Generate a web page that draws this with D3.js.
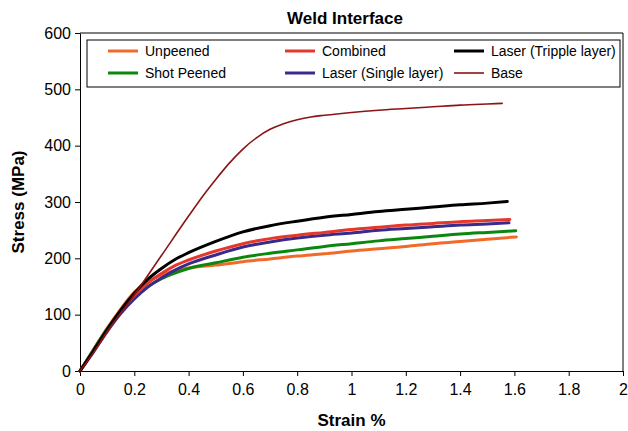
<!DOCTYPE html>
<html lang="en">
<head>
<meta charset="UTF-8">
<title>Weld Interface</title>
<script src="https://d3js.org/d3.v7.min.js"></script>
<style>
    body { margin: 0; background: #fff; }
    text { font-family: "Liberation Sans", Arial, sans-serif; fill: #000; }
</style>
</head>
<body>
<svg width="628" height="431"></svg>
<script>
    // strain (%) sample points, one array per curve
    const unpeenedX = [0, 0.05, 0.1, 0.15, 0.2, 0.25, 0.3, 0.35, 0.4, 0.5, 0.6, 0.7, 0.8, 0.9, 1.0, 1.1, 1.2, 1.3, 1.4, 1.5, 1.607];
    const unpeenedY = [0, 38, 76, 110, 140, 159, 170, 178, 183, 188, 194, 199, 204, 208, 213, 217, 221, 226, 230, 234, 238];

    const shotX = [0, 0.05, 0.1, 0.15, 0.2, 0.25, 0.3, 0.35, 0.4, 0.5, 0.6, 0.7, 0.8, 0.9, 1.0, 1.1, 1.2, 1.3, 1.4, 1.5, 1.605];
    const shotY = [0, 38, 75, 106, 132, 150, 164, 174, 182, 192, 202, 209, 215, 221, 226, 231, 235, 239, 243, 246, 249];

    const singleX = [0, 0.05, 0.1, 0.15, 0.2, 0.25, 0.3, 0.35, 0.4, 0.5, 0.6, 0.7, 0.8, 0.9, 1.0, 1.1, 1.2, 1.3, 1.4, 1.5, 1.58];
    const singleY = [0, 34, 70, 102, 128, 149, 165, 179, 190, 206, 220, 229, 236, 241, 245, 250, 253, 256, 259, 261, 263];

    const combinedX = [0, 0.05, 0.1, 0.15, 0.2, 0.25, 0.3, 0.35, 0.4, 0.5, 0.6, 0.7, 0.8, 0.9, 1.0, 1.1, 1.2, 1.3, 1.4, 1.5, 1.583];
    const combinedY = [0, 36, 72, 106, 134, 156, 173, 187, 197, 213, 226, 235, 241, 246, 251, 255, 259, 262, 265, 267, 269];

    const tripleX = [0, 0.05, 0.1, 0.15, 0.2, 0.25, 0.3, 0.35, 0.4, 0.5, 0.6, 0.7, 0.8, 0.9, 1.0, 1.1, 1.2, 1.3, 1.4, 1.5, 1.574];
    const tripleY = [0, 36, 73, 108, 138, 163, 182, 198, 210, 230, 247, 258, 266, 273, 278, 283, 287, 291, 295, 298, 301];

    const baseX = [0, 0.05, 0.1, 0.2, 0.3, 0.4, 0.45, 0.5, 0.55, 0.6, 0.65, 0.7, 0.75, 0.8, 0.85, 0.9, 1.0, 1.1, 1.2, 1.3, 1.4, 1.5, 1.555];
    const baseY = [0, 33, 70, 135, 205, 275, 309, 340, 369, 394, 414, 429, 439, 446, 451, 454, 459, 463, 466, 469, 472, 474, 475];

    const xTicks = [0, 0.2, 0.4, 0.6, 0.8, 1, 1.2, 1.4, 1.6, 1.8, 2];
    const yTicks = [0, 100, 200, 300, 400, 500, 600];

    // drawing order: thin base last so it sits on top like the original
    const series = [
        { name: "Unpeened", xs: unpeenedX, ys: unpeenedY, color: "#f26a2a", width: 3 },
        { name: "Shot Peened", xs: shotX, ys: shotY, color: "#0b870f", width: 3 },
        { name: "Laser (Single layer)", xs: singleX, ys: singleY, color: "#3a2a8e", width: 3 },
        { name: "Combined", xs: combinedX, ys: combinedY, color: "#e6372b", width: 3 },
        { name: "Laser (Tripple layer)", xs: tripleX, ys: tripleY, color: "#000000", width: 3 },
        { name: "Base", xs: baseX, ys: baseY, color: "#8b1414", width: 1.6 }
    ];

    const svg = d3.select("svg");
    const margin = { left: 80, right: 5, top: 33, bottom: 60 };
    const width = 628 - margin.left - margin.right;
    const height = 431 - margin.top - margin.bottom;

    const x = d3.scaleLinear().domain([0, 2]).range([0, width]);
    const y = d3.scaleLinear().domain([0, 600]).range([height, 0]);

    const g = svg.append("g").attr("transform", `translate(${margin.left},${margin.top})`);

    // axes
    const xAxis = g.append("g")
        .attr("transform", `translate(0,${height})`)
        .call(d3.axisBottom(x).tickValues(xTicks).tickFormat(d3.format("")).tickSizeInner(5).tickSizeOuter(0));
    const yAxis = g.append("g")
        .call(d3.axisLeft(y).tickValues(yTicks).tickSizeInner(5).tickSizeOuter(0));

    [xAxis, yAxis].forEach(a => {
        a.select(".domain").attr("stroke", "#000");
        a.selectAll(".tick line").attr("stroke", "#000");
        a.selectAll(".tick text").style("font-size", "16px").attr("fill", "#000");
    });
    xAxis.selectAll(".tick text").attr("dy", "0.95em").attr("y", 9);
    yAxis.selectAll(".tick text").attr("x", -9);

    // top and right frame
    g.append("path")
        .attr("d", `M0,0H${width}V${height}`)
        .attr("fill", "none").attr("stroke", "#000");

    // curves
    const line = d3.line()
        .x(d => x(d[0]))
        .y(d => y(d[1]))
        .curve(d3.curveMonotoneX);

    g.append("g").selectAll("path")
        .data(series)
        .enter().append("path")
        .attr("d", s => line(d3.zip(s.xs, s.ys)))
        .attr("fill", "none")
        .attr("stroke", s => s.color)
        .attr("stroke-width", s => s.width)
        .attr("stroke-linejoin", "round")
        .attr("stroke-linecap", "round");

    // legend
    const legendOrder = ["Unpeened", "Combined", "Laser (Tripple layer)", "Shot Peened", "Laser (Single layer)", "Base"];
    const colX = [28, 205, 374];
    const rowY = [18, 40];
    const legend = g.append("g");
    legend.append("rect")
        .attr("x", 7).attr("y", 7)
        .attr("width", 533).attr("height", 47)
        .attr("fill", "#fff").attr("stroke", "#000");

    legendOrder.forEach((name, i) => {
        const s = series.find(d => d.name === name);
        const lx = colX[i % 3], ly = rowY[Math.floor(i / 3)];
        legend.append("line")
            .attr("x1", lx).attr("x2", lx + 30)
            .attr("y1", ly).attr("y2", ly)
            .attr("stroke", s.color)
            .attr("stroke-width", s.width);
        legend.append("text")
            .attr("x", lx + 37).attr("y", ly)
            .attr("dy", "0.35em")
            .style("font-size", "14px")
            .text(name);
    });

    // titles
    svg.append("text")
        .attr("x", 345).attr("y", 24)
        .attr("text-anchor", "middle")
        .style("font-size", "17px").style("font-weight", "bold")
        .text("Weld Interface");

    svg.append("text")
        .attr("x", margin.left + width / 2).attr("y", 426)
        .attr("text-anchor", "middle")
        .style("font-size", "17px").style("font-weight", "bold")
        .text("Strain %");

    svg.append("text")
        .attr("transform", `translate(24,${margin.top + height / 2}) rotate(-90)`)
        .attr("text-anchor", "middle")
        .style("font-size", "17px").style("font-weight", "bold")
        .text("Stress (MPa)");
</script>
</body>
</html>
